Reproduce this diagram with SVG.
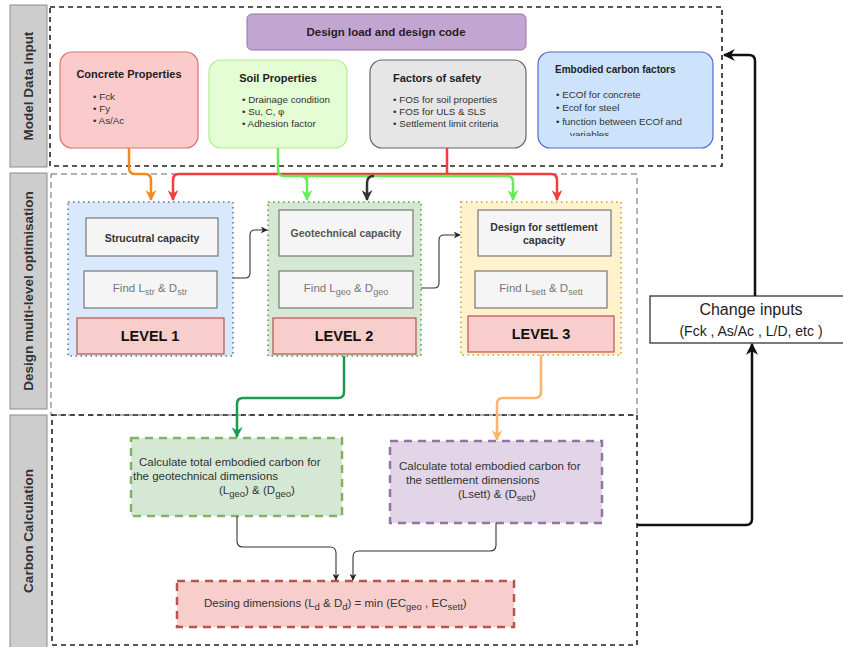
<svg xmlns="http://www.w3.org/2000/svg" width="843" height="647" viewBox="0 0 843 647">
<style>
text{font-family:"Liberation Sans",Arial,sans-serif;}
.strip{fill:#cdcdcd;stroke:#8c8c8c;stroke-width:1;}
.striptxt{font-size:13.5px;font-weight:bold;fill:#333;text-anchor:middle;}
.frame{fill:none;stroke:#222;stroke-width:1.6;stroke-dasharray:5 4;}
.frame2{fill:none;stroke:#666;stroke-width:1;stroke-dasharray:6 4;}
.title{font-size:11px;font-weight:bold;fill:#222;}
.bul{font-size:9.8px;fill:#333;}
.inner{fill:#f5f5f5;stroke:#777;stroke-width:1.2;}
.lvl{fill:#f8cecc;stroke:#b85450;stroke-width:1.2;}
.lvltxt{font-size:14.5px;font-weight:bold;fill:#111;text-anchor:middle;}
.find{font-size:11.5px;fill:#777;text-anchor:middle;}
.cap{font-size:10.5px;font-weight:bold;fill:#333;text-anchor:middle;}
.ctxt{font-size:11.5px;fill:#333;}
.thin{fill:none;stroke:#333;stroke-width:1.1;}
.big{fill:none;stroke-width:2.5;}
</style>
<defs>
<marker id="aOr" viewBox="0 0 10 10" refX="9" refY="5" markerWidth="11" markerHeight="11" markerUnits="userSpaceOnUse" orient="auto"><path d="M0,0 L10,5 L0,10 L3,5 z" fill="#f08a1c"/></marker>
<marker id="aRed" viewBox="0 0 10 10" refX="9" refY="5" markerWidth="11" markerHeight="11" markerUnits="userSpaceOnUse" orient="auto"><path d="M0,0 L10,5 L0,10 L3,5 z" fill="#f23d3d"/></marker>
<marker id="aGr" viewBox="0 0 10 10" refX="9" refY="5" markerWidth="11" markerHeight="11" markerUnits="userSpaceOnUse" orient="auto"><path d="M0,0 L10,5 L0,10 L3,5 z" fill="#66ea55"/></marker>
<marker id="aBk" viewBox="0 0 10 10" refX="9" refY="5" markerWidth="11" markerHeight="11" markerUnits="userSpaceOnUse" orient="auto"><path d="M0,0 L10,5 L0,10 L3,5 z" fill="#333"/></marker>
<marker id="aDg" viewBox="0 0 10 10" refX="9" refY="5" markerWidth="11" markerHeight="11" markerUnits="userSpaceOnUse" orient="auto"><path d="M0,0 L10,5 L0,10 L3,5 z" fill="#1b9a50"/></marker>
<marker id="aLo" viewBox="0 0 10 10" refX="9" refY="5" markerWidth="11" markerHeight="11" markerUnits="userSpaceOnUse" orient="auto"><path d="M0,0 L10,5 L0,10 L3,5 z" fill="#ffb36b"/></marker>
<marker id="aSm" viewBox="0 0 10 10" refX="9" refY="5" markerWidth="7" markerHeight="7" markerUnits="userSpaceOnUse" orient="auto"><path d="M0,0 L10,5 L0,10 L3,5 z" fill="#222"/></marker>
<marker id="aFb" viewBox="0 0 10 10" refX="9" refY="5" markerWidth="12" markerHeight="12" markerUnits="userSpaceOnUse" orient="auto"><path d="M0,0 L10,5 L0,10 L3,5 z" fill="#111"/></marker>
<clipPath id="ecClip"><rect x="538" y="52" width="176" height="84"/></clipPath>
</defs>
<rect width="843" height="647" fill="#fff"/>

<g id="lanes">
<rect class="strip" x="10" y="5" width="37" height="162"/>
<text class="striptxt" transform="translate(33,86) rotate(-90)">Model Data Input</text>
<rect class="strip" x="10" y="173" width="37" height="236"/>
<text class="striptxt" transform="translate(33,291) rotate(-90)">Design multi-level optimisation</text>
<rect class="strip" x="10" y="415" width="37" height="234"/>
<text class="striptxt" transform="translate(33,531) rotate(-90)">Carbon Calculation</text>
<rect class="frame" x="50" y="7" width="672" height="159"/>
<rect class="frame2" x="51" y="174" width="586" height="241"/>
<rect class="frame" x="52" y="415" width="585" height="230"/>
</g>

<g id="design-load">
<rect x="247" y="14" width="279" height="36" rx="5" fill="#c3a5d1" stroke="#9673a6"/>
<text x="386" y="36" font-size="11.5" font-weight="bold" fill="#222" text-anchor="middle">Design load and design code</text>
</g>

<g id="concrete">
<rect x="60" y="52" width="138" height="96" rx="12" fill="#fbcaca" stroke="#dd6e6e" stroke-width="1.2"/>
<text class="title" x="129" y="78" text-anchor="middle">Concrete Properties</text>
<text class="bul" x="93" y="100">•  Fck</text>
<text class="bul" x="93" y="112">•  Fy</text>
<text class="bul" x="93" y="124">•  As/Ac</text>
</g>

<g id="soil">
<rect x="209" y="60" width="138" height="88" rx="12" fill="#e5fdd5" stroke="#b0f090" stroke-width="1.2"/>
<text class="title" x="278" y="82" text-anchor="middle">Soil Properties</text>
<text class="bul" x="242" y="103">•  Drainage condition</text>
<text class="bul" x="242" y="115">•  Su, C, φ</text>
<text class="bul" x="242" y="127">•  Adhesion factor</text>
</g>

<g id="fos">
<rect x="370" y="60" width="156" height="88" rx="12" fill="#e6e6e6" stroke="#666" stroke-width="1.2"/>
<text class="title" x="393" y="82">Factors of safety</text>
<text class="bul" x="393" y="103">•  FOS for soil properties</text>
<text class="bul" x="393" y="115">•  FOS for ULS &amp; SLS</text>
<text class="bul" x="393" y="127">•  Settlement limit criteria</text>
</g>

<g id="ecf">
<rect x="538" y="52" width="175" height="96" rx="12" fill="#cce3fb" stroke="#5468d4" stroke-width="1.2"/>
<text x="555" y="73" font-size="10" font-weight="bold" fill="#222">Embodied carbon factors</text>
<g clip-path="url(#ecClip)">
<text class="bul" x="556" y="98">•   ECOf for concrete</text>
<text class="bul" x="556" y="111">•   Ecof for steel</text>
<text class="bul" x="556" y="125">•   function between ECOf and</text>
<text class="bul" x="570" y="138">variables</text>
</g>
</g>

<g id="level1">
<rect x="68" y="202" width="165" height="154" fill="#dae8fc" stroke="#7f90ab" stroke-width="2" stroke-dasharray="1.5 3.5"/>
<rect class="inner" x="86" y="218" width="132" height="38"/>
<text class="cap" x="152" y="242">Strucutral capacity</text>
<rect class="inner" x="84" y="271" width="133" height="37"/>
<text class="find" x="150" y="292">Find L<tspan font-size="9" dy="3">str</tspan><tspan dy="-3"> &amp; D</tspan><tspan font-size="9" dy="3">str</tspan></text>
<rect class="lvl" x="77" y="318" width="147" height="36"/>
<text class="lvltxt" x="150" y="341">LEVEL 1</text>
</g>

<g id="level2">
<rect x="268" y="202" width="153" height="154" fill="#d5e8d4" stroke="#82a86a" stroke-width="2" stroke-dasharray="1.5 3.5"/>
<rect class="inner" x="279" y="210" width="134" height="46"/>
<text x="346" y="237" font-size="10.5" font-weight="bold" fill="#555" text-anchor="middle">Geotechnical capacity</text>
<rect class="inner" x="279" y="271" width="134" height="37"/>
<text class="find" x="346" y="292">Find L<tspan font-size="9" dy="3">geo</tspan><tspan dy="-3"> &amp; D</tspan><tspan font-size="9" dy="3">geo</tspan></text>
<rect class="lvl" x="273" y="318" width="143" height="36"/>
<text class="lvltxt" x="344" y="341">LEVEL 2</text>
</g>

<g id="level3">
<rect x="461" y="202" width="160" height="153" fill="#fff2cc" stroke="#d6b656" stroke-width="2" stroke-dasharray="1.5 3.5"/>
<rect class="inner" x="478" y="210" width="133" height="46"/>
<text class="cap" x="544" y="231">Design for settlement</text>
<text class="cap" x="544" y="244">capacity</text>
<rect class="inner" x="475" y="271" width="132" height="37"/>
<text class="find" x="541" y="292">Find L<tspan font-size="9" dy="3">sett</tspan><tspan dy="-3"> &amp; D</tspan><tspan font-size="9" dy="3">sett</tspan></text>
<rect class="lvl" x="468" y="316" width="146" height="36"/>
<text class="lvltxt" x="541" y="339">LEVEL 3</text>
</g>

<g id="change-inputs">
<rect x="650" y="296" width="200" height="47" fill="#fff" stroke="#222" stroke-width="1.2"/>
<text x="751" y="315" font-size="16" fill="#222" text-anchor="middle">Change inputs</text>
<text x="751" y="336" font-size="14" fill="#222" text-anchor="middle">(Fck , As/Ac , L/D, etc )</text>
</g>

<g id="ec-geo">
<rect x="131" y="438" width="211" height="78" fill="#d5e8d4" stroke="#82b366" stroke-width="2.5" stroke-dasharray="8 6"/>
<text class="ctxt" x="139" y="466">Calculate total embodied carbon for</text>
<text class="ctxt" x="133" y="480">the geotechnical dimensions</text>
<text class="ctxt" x="219" y="494">(L<tspan font-size="9.5" dy="3">geo</tspan><tspan dy="-3">) &amp; (D</tspan><tspan font-size="9.5" dy="3">geo</tspan><tspan dy="-3">)</tspan></text>
</g>

<g id="ec-sett">
<rect x="390" y="441" width="212" height="82" fill="#e1d5e7" stroke="#9673a6" stroke-width="2.5" stroke-dasharray="8 6"/>
<text class="ctxt" x="399" y="470" font-size="11.2">Calculate total embodied carbon for</text>
<text class="ctxt" x="406" y="484" font-size="11.2">the settlement dimensions</text>
<text class="ctxt" x="458" y="498" font-size="11">(Lsett) &amp; (D<tspan font-size="9.5" dy="3">sett</tspan><tspan dy="-3">)</tspan></text>
</g>

<g id="design-dims">
<rect x="177" y="581" width="337" height="46" fill="#f8cecc" stroke="#b85450" stroke-width="2.5" stroke-dasharray="8 6"/>
<text class="ctxt" x="204" y="607" font-size="11.8">Desing dimensions (L<tspan font-size="9.5" dy="3">d</tspan><tspan dy="-3"> &amp; D</tspan><tspan font-size="9.5" dy="3">d</tspan><tspan dy="-3">) = min (EC</tspan><tspan font-size="9.5" dy="3">geo</tspan><tspan dy="-3"> , EC</tspan><tspan font-size="9.5" dy="3">sett</tspan><tspan dy="-3">)</tspan></text>
</g>

<g id="connectors">
<path class="big" stroke="#f08a1c" d="M129,148 V168 Q129,174 135,174 H145 Q151,174 151,180 V200" marker-end="url(#aOr)"/>
<path class="big" stroke="#f23d3d" d="M447,148 V174 H179 Q173,174 173,180 V200" marker-end="url(#aRed)"/>
<path class="big" stroke="#f23d3d" d="M447,174 H551 Q557,174 557,180 V200" marker-end="url(#aRed)"/>
<path class="big" stroke="#66ea55" d="M278,148 V170 Q278,176 284,176 H301 Q307,176 307,182 V200" marker-end="url(#aGr)"/>
<path class="big" stroke="#66ea55" d="M301,176 H507 Q513,176 513,182 V200" marker-end="url(#aGr)"/>
<path class="big" stroke="#333" stroke-width="2" d="M374,176 Q367,176 367,183 V200" marker-end="url(#aBk)"/>
<path class="thin" d="M233,278 H245 Q250,278 250,273 V235 Q250,230 255,230 H267" marker-end="url(#aSm)"/>
<path class="thin" d="M421,288 H434 Q439,288 439,283 V240 Q439,235 444,235 H460" marker-end="url(#aSm)"/>
<path class="big" stroke="#1b9a50" d="M344,356 V392 Q344,398 338,398 H243 Q237,398 237,404 V437" marker-end="url(#aDg)"/>
<path class="big" stroke="#ffb36b" d="M541,355 V392 Q541,398 535,398 H503 Q497,398 497,404 V440" marker-end="url(#aLo)"/>
<path class="thin" d="M237,516 V541 Q237,547 243,547 H330 Q336,547 336,553 V580" marker-end="url(#aSm)"/>
<path class="thin" stroke="#777" d="M496,523 V545 Q496,551 490,551 H359 Q353,551 353,557 V580" marker-end="url(#aSm)"/>
<path class="big" stroke="#111" d="M637,525 H746 Q752,525 752,519 V344" marker-end="url(#aFb)"/>
<path class="big" stroke="#111" d="M755,296 V61 Q755,55 749,55 H724" marker-end="url(#aFb)"/>
</g>
</svg>
